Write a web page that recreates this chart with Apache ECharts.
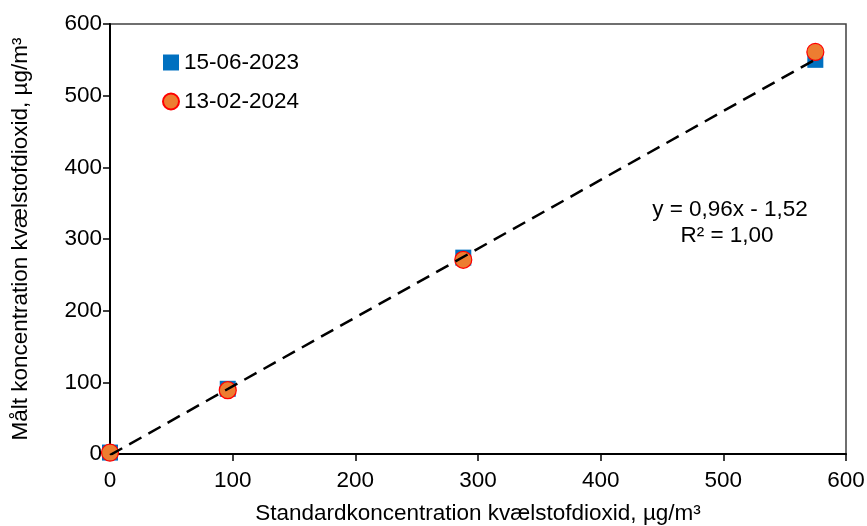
<!DOCTYPE html>
<html>
<head>
<meta charset="utf-8">
<script src="https://cdn.jsdelivr.net/npm/echarts@6/dist/echarts.min.js"></script>
<style>html,body{margin:0;padding:0;background:#fff;}#c{width:867px;height:526px;}</style>
</head>
<body>
<div id="c"></div>
<script>
const standard = [0, 96, 288, 575];
const measured2023 = [2, 91, 274, 550];
const measured2024 = [2, 89, 271, 561];
const seriesNames = ['15-06-2023', '13-02-2024'];
const trendX = [0, 575];
const trendSlope = 0.96, trendIntercept = -1.52;
const xTicks = [0, 100, 200, 300, 400, 500, 600];
const yTicks = [0, 100, 200, 300, 400, 500, 600];

const FONT = 'Liberation Sans, Arial, sans-serif';
const FS = 22.5;
const chart = echarts.init(document.getElementById('c'), null, {renderer: 'canvas'});
const pair = (xs, ys) => xs.map((x, i) => [x, ys[i]]);
const trendData = trendX.map(x => [x, trendSlope * x + trendIntercept]);

chart.setOption({
  animation: false,
  backgroundColor: '#fff',
  grid: {left: 110, right: 21, top: 24, bottom: 72, containLabel: false, outerBoundsMode: 'none',
         show: true, borderColor: '#404040', borderWidth: 1.5},
  legend: {
    orient: 'vertical', left: 162, top: 51, itemGap: 16, padding: 0,
    itemWidth: 16, itemHeight: 16,
    textStyle: {fontFamily: FONT, fontSize: FS, color: '#000'},
    data: [{name: seriesNames[0], icon: 'rect'}, {name: seriesNames[1], icon: 'circle'}]
  },
  xAxis: {
    type: 'value', min: xTicks[0], max: xTicks[xTicks.length - 1], interval: 100,
    name: 'Standardkoncentration kvælstofdioxid, µg/m³',
    nameLocation: 'middle', nameGap: 48,
    nameTextStyle: {fontFamily: FONT, fontSize: FS, color: '#000'},
    axisLine: {onZero: false, lineStyle: {color: '#000', width: 2}},
    axisTick: {show: true, length: 7, lineStyle: {color: '#000', width: 1.5}},
    axisLabel: {fontFamily: FONT, fontSize: FS, color: '#000', margin: 15},
    splitLine: {show: false}
  },
  yAxis: {
    type: 'value', min: yTicks[0], max: yTicks[yTicks.length - 1], interval: 100,
    name: 'Målt koncentration kvælstofdioxid, µg/m³',
    nameLocation: 'middle', nameGap: 78, nameRotate: 90,
    nameTextStyle: {fontFamily: FONT, fontSize: FS, color: '#000'},
    axisLine: {onZero: false, lineStyle: {color: '#000', width: 2}},
    axisTick: {show: true, length: 7, lineStyle: {color: '#000', width: 1.5}},
    axisLabel: {fontFamily: FONT, fontSize: FS, color: '#000', margin: 8},
    splitLine: {show: false}
  },
  series: [
    {
      name: seriesNames[0], type: 'scatter', symbol: 'rect', symbolSize: 16,
      itemStyle: {color: '#0070C0', opacity: 1}, z: 2,
      data: pair(standard, measured2023)
    },
    {
      name: seriesNames[1], type: 'scatter', symbol: 'circle', symbolSize: 17,
      itemStyle: {color: '#ED7D31', borderColor: '#FF0000', borderWidth: 1.2, opacity: 1}, z: 3,
      data: pair(standard, measured2024)
    },
    {
      name: 'trend', type: 'line', showSymbol: false, symbol: 'none', z: 4,
      lineStyle: {color: '#000', width: 2.5, type: [14, 8]},
      data: trendData, silent: true
    }
  ],
  graphic: [
    {type: 'text', x: 730, y: 198, style: {text: 'y = 0,96x - 1,52', align: 'center', fontFamily: FONT, fontSize: FS, fill: '#000'}},
    {type: 'text', x: 727, y: 224, style: {text: 'R² = 1,00', align: 'center', fontFamily: FONT, fontSize: FS, fill: '#000'}}
  ]
});
</script>
</body>
</html>
